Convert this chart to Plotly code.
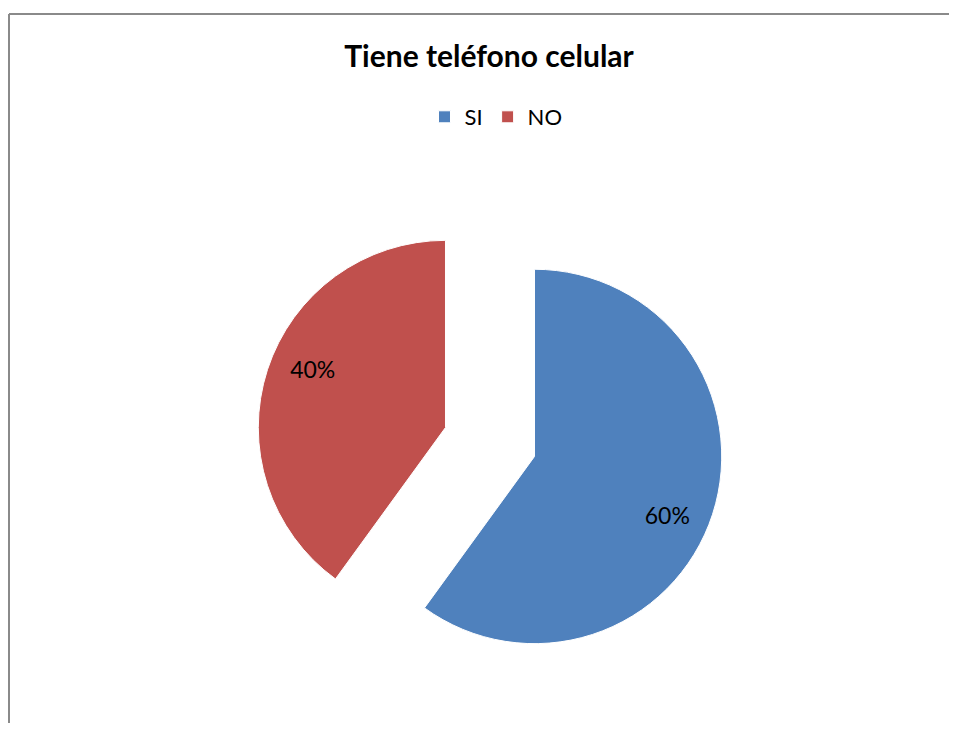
import plotly.graph_objects as go

labels = ["SI", "NO"]
values = [60, 40]
colors = ["#4F81BD", "#C0504D"]
title_text = "Tiene teléfono celular"

# page body has an 8px margin; keep the figure inside the window
W, H = 949, 715
cx, cy, box = 482, 434, 468
dom = dict(x=[(cx - box / 2) / W, (cx + box / 2) / W],
           y=[(H - cy - box / 2) / H, (H - cy + box / 2) / H])
font_family = "Lato, Open Sans, sans-serif"

fig = go.Figure()
# filled slices
fig.add_trace(go.Pie(
    labels=labels, values=values, sort=False, direction="clockwise", rotation=0,
    pull=[0.25, 0.25],
    marker=dict(colors=colors, line=dict(color="white", width=1)),
    textinfo="none", hoverinfo="label+percent", domain=dom,
))
# transparent ring carrying the percentage labels further out
fig.add_trace(go.Pie(
    labels=labels, values=values, sort=False, direction="clockwise", rotation=4.5,
    pull=[0.25, 0.25], hole=0.55,
    marker=dict(colors=["rgba(0,0,0,0)"] * len(labels), line=dict(width=0)),
    texttemplate="%{percent:.0%}", textposition="inside",
    insidetextorientation="horizontal",
    textfont=dict(family=font_family, size=23, color="black"),
    hoverinfo="skip", showlegend=False, domain=dom,
))

fig.update_layout(
    width=W, height=H,
    margin=dict(l=0, r=0, t=0, b=0),
    paper_bgcolor="white",
    plot_bgcolor="white",
    title=dict(text="<b>" + title_text + "</b>", x=481 / W, xanchor="center",
               y=1 - 48 / H, yanchor="middle",
               font=dict(family=font_family, size=30, color="black")),
    legend=dict(orientation="h", x=488 / W, xanchor="center", y=1 - 109 / H, yanchor="middle",
                font=dict(family=font_family, size=22, color="black"),
                itemwidth=30, traceorder="normal"),
    shapes=[
        dict(type="line", xref="paper", yref="paper",
             x0=1 / W, x1=1.05, y0=1 - 6 / H, y1=1 - 6 / H,
             line=dict(color="#8a8a8a", width=2)),
        dict(type="line", xref="paper", yref="paper",
             x0=1 / W, x1=1 / W, y0=-0.05, y1=1 - 6 / H,
             line=dict(color="#8a8a8a", width=2)),
    ],
)

fig.write_html("out.html")
